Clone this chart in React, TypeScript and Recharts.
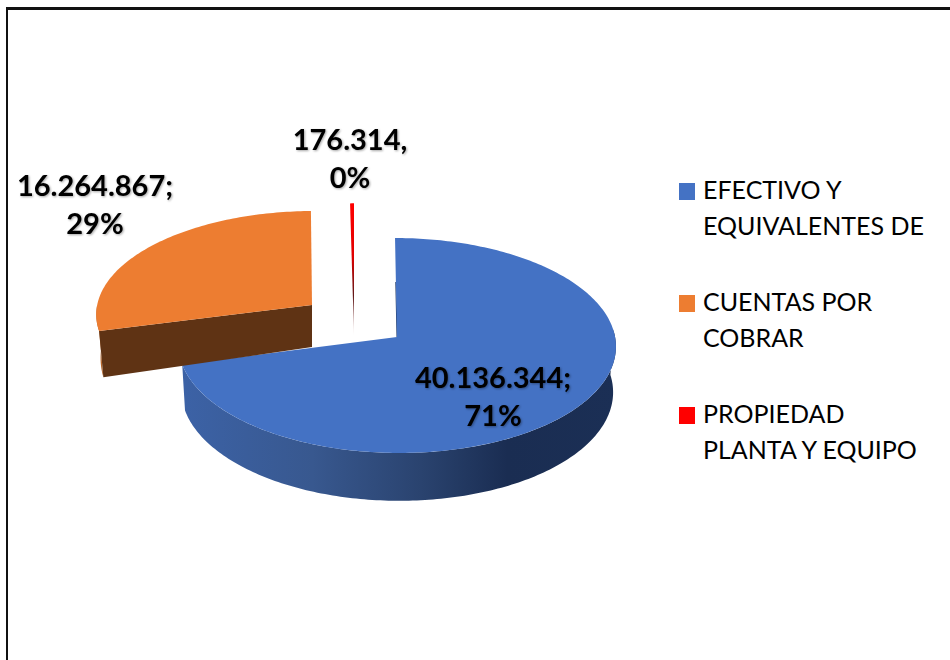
import React from "react";
import { PieChart, Pie, Legend } from "recharts";

const categories = ["EFECTIVO Y EQUIVALENTES DE", "CUENTAS POR COBRAR", "PROPIEDAD PLANTA Y EQUIPO"];
const values = [40136344, 16264867, 176314];
const valueLabels = ["40.136.344", "16.264.867", "176.314"];
const separators = [";", ";", ","];
const colors = ["#4472C4", "#ED7D31", "#FF0000"];

const rows = categories.map((name, i) => ({ name, value: values[i], fill: colors[i] }));

const FONT = "Lato, Carlito, 'Open Sans', sans-serif";
const CX = 397;
const CY = 337;
const R = 217;
const K = 0.079;
const YR = 106.8 / 217;

type Geom = { dx: number; dy: number; sx: number; sy: number; shear: number; baseSx: number; baseSy: number; depth: number; labelX: number; labelY: number };
const geoms: Geom[] = [
  { dx: 0, dy: 0, sx: 1.005, sy: 1, shear: 0.02, baseSx: 0.987, baseSy: 1.02, depth: 45.5, labelX: 493, labelY: 380.5 },
  { dx: -85, dy: -32, sx: 0.99, sy: 0.95, shear: -0.03, baseSx: 0.98, baseSy: 1.16, depth: 42, labelX: 95, labelY: 188.5 },
  { dx: -43, dy: -2, sx: 1, sy: 1.33, shear: 0, baseSx: 1, baseSy: 1, depth: 0, labelX: 350, labelY: 142.5 },
];

function project(angle: number, g: Geom, cx: number, cy: number, r: number) {
  const t = (angle * Math.PI) / 180;
  const u = Math.cos(t);
  const v = -Math.sin(t);
  const w = 1 - K * v;
  const lx = (r * g.sx * u) / w;
  const ly = (r * YR * g.sy * v) / w;
  return { lx: lx + g.shear * ly, ly, ax: cx + g.dx, ay: cy + g.dy };
}
const top = (p: ReturnType<typeof project>) => [p.ax + p.lx, p.ay + p.ly];
const base = (p: ReturnType<typeof project>, g: Geom) => [p.ax + p.lx * g.baseSx, p.ay + p.ly * g.baseSy + g.depth];

function pathOf(pts: number[][], close = true) {
  return pts.map((q, i) => `${i ? "L" : "M"}${q[0].toFixed(2)},${q[1].toFixed(2)}`).join(" ") + (close ? " Z" : "");
}
function arc(a: number, b: number) {
  const n = Math.max(2, Math.ceil(Math.abs(b - a)));
  return Array.from({ length: n + 1 }, (_, i) => a + ((b - a) * i) / n);
}

function Slice(props: any) {
  const { cx, cy, outerRadius, startAngle, endAngle, fill } = props;
  const idx = categories.indexOf(props.name ?? props.payload?.name);
  const g = geoms[idx];
  const apex = [cx + g.dx, cy + g.dy];
  const rim = arc(startAngle, endAngle).map((a) => project(a, g, cx, cy, outerRadius));
  const topPath = pathOf([apex, ...rim.map(top)]);

  if (idx === 2) {
    return <path d={topPath} fill="url(#redFade)" />;
  }
  const wallFrom = Math.min(startAngle, 4);
  const wallTo = Math.max(endAngle, -180);
  const front = arc(wallFrom, wallTo).map((a) => project(a, g, cx, cy, outerRadius));
  const wall = pathOf([...front.map(top), ...front.slice().reverse().map((p) => base(p, g))]);
  const startP = project(startAngle, g, cx, cy, outerRadius);
  return (
    <g>
      <path d={wall} fill={idx === 0 ? "url(#blueWall)" : "#B8672B"} />
      {idx === 1 && (
        <path d={pathOf([apex, top(startP), base(startP, g), [apex[0], apex[1] + g.depth]])} fill="#5F3314" />
      )}
      {idx === 0 && (
        <path d={pathOf([apex, [apex[0] - 1.2, apex[1] - 55]], false)} stroke="#1F3864" strokeWidth={1} fill="none" />
      )}
      <path d={topPath} fill={fill} />
    </g>
  );
}

function renderLabel(props: any) {
  const i = props.index as number;
  const g = geoms[i];
  const pct = Math.round(props.percent * 100);
  return (
    <text
      x={g.labelX}
      y={g.labelY}
      textAnchor="middle"
      fontFamily={FONT}
      fontWeight={700}
      fontSize={29}
      fill="#000"
      style={{ filter: "drop-shadow(1px 1px 1px rgba(0,0,0,0.35))" }}
    >
      <tspan x={g.labelX} dominantBaseline="middle">{valueLabels[i] + separators[i]}</tspan>
      <tspan x={g.labelX} dy={38} dominantBaseline="middle">{pct + "%"}</tspan>
    </text>
  );
}

function LegendBox(props: any) {
  const items = props.payload ?? [];
  return (
    <div style={{ fontFamily: FONT, fontSize: 25, lineHeight: "36px", color: "#000" }}>
      {items.map((it: any) => (
        <div key={it.value} style={{ position: "relative", height: 112, paddingLeft: 24, width: 228 }}>
          <span style={{ position: "absolute", left: 0, top: 12, width: 16, height: 17, background: it.color }} />
          {it.value}
        </div>
      ))}
    </div>
  );
}

export default function App() {
  return (
    <div style={{ position: "fixed", left: 0, top: 0, width: 950, height: 660, overflow: "hidden", background: "#fff" }}>
      <div style={{ position: "absolute", left: 6, top: 7, width: 1000, height: 1000, borderTop: "3px solid #111", borderLeft: "2px solid #111" }} />
      <div style={{ position: "absolute", left: 0, top: 0 }}>
        <PieChart width={950} height={660} margin={{ top: 0, right: 0, bottom: 0, left: 0 }}>
          <defs>
            <linearGradient id="blueWall" x1="0" y1="0" x2="1" y2="0">
              <stop offset="0" stopColor="#3C62A6" />
              <stop offset="0.3" stopColor="#38588F" />
              <stop offset="0.55" stopColor="#2A436F" />
              <stop offset="0.75" stopColor="#1A2D52" />
              <stop offset="1" stopColor="#1B2F55" />
            </linearGradient>
            <linearGradient id="redFade" x1="0" y1="0" x2="0" y2="1">
              <stop offset="0" stopColor="#FF0000" />
              <stop offset="0.4" stopColor="#E00000" />
              <stop offset="0.7" stopColor="#601818" />
              <stop offset="1" stopColor="#F0E0E0" />
            </linearGradient>
          </defs>
          <Pie
            data={rows}
            dataKey="value"
            nameKey="name"
            cx={CX}
            cy={CY}
            innerRadius={0}
            outerRadius={R}
            startAngle={90}
            endAngle={-270}
            stroke="none"
            legendType="square"
            isAnimationActive={false}
            shape={Slice}
            inactiveShape={Slice}
            label={renderLabel}
            labelLine={false}
          />
          <Legend
            layout="vertical"
            align="center"
            verticalAlign="middle"
            itemSorter={null}
            content={LegendBox}
            wrapperStyle={{ left: 679, top: 171, width: 260 }}
          />
        </PieChart>
      </div>
    </div>
  );
}
